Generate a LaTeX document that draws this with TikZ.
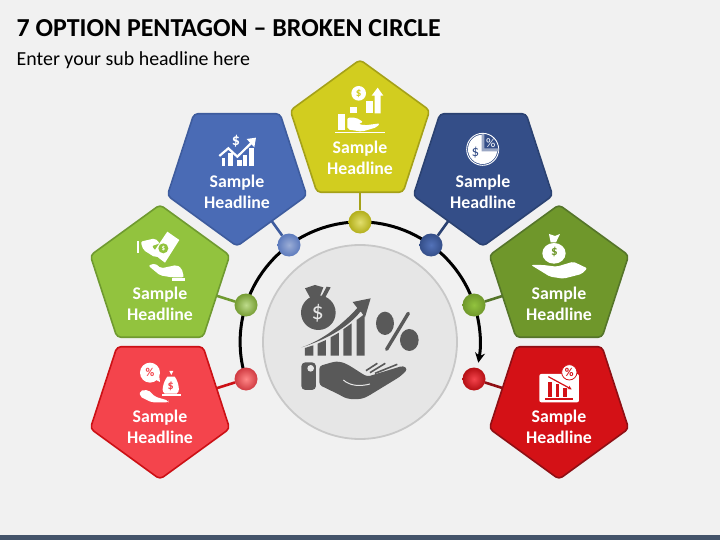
\documentclass[tikz,border=0pt]{standalone}
\usepackage{fontspec}
\setmainfont{Carlito}
\usetikzlibrary{shapes.geometric,backgrounds,arrows.meta}

\definecolor{pagegrey}{HTML}{F1F1F1}
\definecolor{barslate}{HTML}{44546A}
\definecolor{hubfill}{HTML}{E6E6E6}
\definecolor{hubline}{HTML}{C8C8C8}
\definecolor{icongrey}{HTML}{595959}
\definecolor{yellowfill}{HTML}{D2CD1F}
\definecolor{yellowline}{HTML}{A5A118}
\definecolor{bluefill}{HTML}{4A6BB5}
\definecolor{blueline}{HTML}{3E5C9E}
\definecolor{navyfill}{HTML}{344E88}
\definecolor{navyline}{HTML}{2B4272}
\definecolor{limefill}{HTML}{92C33E}
\definecolor{limeline}{HTML}{6F9A30}
\definecolor{greenfill}{HTML}{6F972B}
\definecolor{greenline}{HTML}{55752A}
\definecolor{redfill}{HTML}{F4444C}
\definecolor{redline}{HTML}{CC1015}
\definecolor{crimsonfill}{HTML}{D41116}
\definecolor{crimsonline}{HTML}{8F0F14}

\begin{document}
\begin{tikzpicture}[x=1pt,y=-1pt,
    pentup/.style={regular polygon,regular polygon sides=5,minimum size=146.5pt,inner sep=0pt,outer sep=0pt,rounded corners=4pt,line width=1.6pt},
    pentdown/.style={pentup,shape border rotate=180},
    ball/.style={circle,minimum size=23pt,inner sep=0pt,outer sep=0pt},
    stub/.style={line width=2.6pt},
    caption/.style={text=white,align=center,font=\fontsize{17.8}{21}\selectfont\bfseries},
    glyph/.style={inner sep=0pt,outer sep=0pt}]

\useasboundingbox (0,0) rectangle (720,540);

\node [pentup,   fill=limefill,    draw=limeline]    (pent_lime)    at (160,278) {};
\node [pentdown, fill=bluefill,    draw=blueline]    (pent_blue)    at (237,173) {};
\node [pentup,   fill=yellowfill,  draw=yellowline]  (pent_yellow)  at (360,133) {};
\node [pentdown, fill=navyfill,    draw=navyline]    (pent_navy)    at (483,173) {};
\node [pentup,   fill=greenfill,   draw=greenline]   (pent_green)   at (559,278) {};
\node [pentdown, fill=redfill,     draw=redline]     (pent_red)     at (160,406) {};
\node [pentdown, fill=crimsonfill, draw=crimsonline] (pent_crimson) at (559,406) {};

\node [ball, inner color=red!45!pink!80!white,   outer color=redfill!85!black]     (ball_red)     at (246,379) {};
\node [ball, inner color=limefill!60!white,      outer color=limefill!80!black]    (ball_lime)    at (246,305) {};
\node [ball, inner color=bluefill!55!white,      outer color=bluefill!90!white]    (ball_blue)    at (289,245) {};
\node [ball, inner color=yellowfill!65!white,    outer color=yellowfill!85!black]  (ball_yellow)  at (360,222) {};
\node [ball, inner color=bluefill!95!white,      outer color=navyfill]             (ball_navy)    at (431,245) {};
\node [ball, inner color=limefill,               outer color=greenfill]            (ball_green)   at (474,305) {};
\node [ball, inner color=redfill,                outer color=crimsonfill!85!black] (ball_crimson) at (474,379) {};

\node [circle, minimum size=194pt, inner sep=0pt, fill=hubfill, draw=hubline, line width=1.8pt] (hub) at (360,342) {};

\begin{scope}[on background layer]
\fill [pagegrey] (0,0) rectangle (720,540);
\fill [barslate] (0,535) rectangle (720,540);
\draw [line width=3pt, -{Stealth[length=10pt,width=10pt]}] (ball_red.center) arc[start angle=162, end angle=370, radius=120];
\draw [stub, limeline]    (pent_lime)    -- (ball_lime);
\draw [stub, blueline]    (pent_blue)    -- (ball_blue);
\draw [stub, yellowline]  (pent_yellow)  -- (ball_yellow);
\draw [stub, navyline]    (pent_navy)    -- (ball_navy);
\draw [stub, greenline]   (pent_green)   -- (ball_green);
\draw [stub, redline]     (pent_red)     -- (ball_red);
\draw [stub, crimsonline] (pent_crimson) -- (ball_crimson);
\end{scope}

\node [anchor=base west, inner sep=0pt, font=\fontsize{25.9}{28}\selectfont\bfseries] (title)    at (16.5,36.5) {7 OPTION PENTAGON – BROKEN CIRCLE};
\node [anchor=base west, inner sep=0pt, font=\fontsize{19.9}{22}\selectfont]          (subtitle) at (16.5,66)   {Enter your sub headline here};

\node [caption] (text_lime)    at (160,304) {Sample\\Headline};
\node [caption] (text_blue)    at (237,192) {Sample\\Headline};
\node [caption] (text_yellow)  at (360,158) {Sample\\Headline};
\node [caption] (text_navy)    at (483,192) {Sample\\Headline};
\node [caption] (text_green)   at (559,304) {Sample\\Headline};
\node [caption] (text_red)     at (160,427) {Sample\\Headline};
\node [caption] (text_crimson) at (559,427) {Sample\\Headline};

\begin{scope}[shift={(260,240)},scale=0.3333,fill=icongrey]
\fill (175,218) circle (52);
\fill (135,145) -- (165,135) -- (190,142) -- (177,176) -- (152,176) -- cycle;
\fill (200,140) -- (212,142) -- (196,172) -- (184,170) -- cycle;
\node [glyph, text=hubfill, font=\fontsize{24}{24}\selectfont] (big_dollar) at (173,220) {\$};
\fill (125,322) .. controls (190,300) and (250,250) .. (292,204) -- (278,186) -- (332,175) -- (315,232) -- (302,214) .. controls (270,255) and (210,295) .. (125,322) -- cycle;
\fill (135,324) -- (160,316) -- (160,347) -- (135,347) -- cycle;
\fill (173,311) -- (198,300) -- (198,347) -- (173,347) -- cycle;
\fill (212,292) -- (237,278) -- (237,347) -- (212,347) -- cycle;
\fill (250,268) -- (275,250) -- (275,347) -- (250,347) -- cycle;
\fill (290,240) -- (314,222) -- (314,347) -- (290,347) -- cycle;
\fill (375,250) ellipse [x radius=27, y radius=35];
\fill (448,300) ellipse [x radius=28, y radius=33];
\draw [icongrey, line width=3.4pt, line cap=round] (445,220) -- (380,328);
\fill [rounded corners=4pt] (124,367) rectangle (168,450);
\fill [hubfill] (152,385) circle (10);
\fill [rounded corners=3pt] (178,378) .. controls (200,372) and (220,365) .. (238,365) .. controls (265,372) and (295,395) .. (322,410) -- (430,377) -- (443,388) -- (420,410) -- (325,468) .. controls (300,480) and (265,480) .. (240,465) -- (178,435) -- cycle;
\draw [hubfill, line width=1pt] (250,420) .. controls (270,438) and (300,440) .. (330,432);
\draw [icongrey, line width=1.6pt] (318,392) -- (352,370);
\draw [icongrey, line width=1.6pt] (330,398) -- (376,370);
\draw [icongrey, line width=1.6pt] (345,400) -- (412,373);
\end{scope}

\begin{scope}[shift={(230,50)},scale=0.3333,fill=white]
\fill (386,130) circle (22);
\node [glyph, text=yellowfill, font=\fontsize{11}{11}\selectfont\bfseries] (dollar_yellow) at (386,130) {\$};
\fill (360,170) rectangle (380,190);
\fill (407,153) rectangle (428,190);
\fill (434,190) -- (434,137) -- (425,137) -- (443,113) -- (460,137) -- (452,137) -- (452,190) -- cycle;
\fill (325,192) rectangle (346,240);
\fill [rounded corners=2pt] (352,203) -- (378,203) -- (400,216) -- (385,222) -- (405,226) -- (450,220) -- (440,232) -- (395,245) -- (352,238) -- cycle;
\fill (315,246) rectangle (465,250);
\end{scope}

\begin{scope}[shift={(160,100)},scale=0.3333,fill=white]
\node [glyph, text=white, font=\fontsize{16}{16}\selectfont\bfseries] (dollar_blue) at (228,125) {\$};
\draw [white, line width=2.2pt] (178,168) -- (205,145) -- (232,170) -- (275,128);
\fill (260,117) -- (288,113) -- (283,142) -- cycle;
\fill (185,175) rectangle (196,197);
\fill (205,160) rectangle (220,197);
\fill (230,180) rectangle (245,197);
\fill (250,165) rectangle (262,197);
\fill (268,145) rectangle (282,197);
\end{scope}

\begin{scope}[shift={(450,120)},scale=0.3333,fill=white]
\draw [white, line width=0.9pt] (98,88) circle (48);
\fill (98,44) arc[start angle=-90, end angle=-360, radius=44] -- (98,88) -- cycle;
\fill [navyfill!50!white] (95,42) -- (103,42) -- (103,85) -- (146,85) -- (146,94) -- (95,94) -- cycle;
\node [glyph, text=navyfill, font=\fontsize{15}{15}\selectfont] (dollar_navy) at (76,99) {\$};
\node [glyph, text=white, font=\fontsize{13}{13}\selectfont] (percent_navy) at (122,68) {\%};
\end{scope}

\begin{scope}[shift={(80,200)},scale=0.3333,fill=white]
\fill (170,122) rectangle (176,160);
\fill (262,95) -- (298,120) -- (255,188) -- (218,160) -- cycle;
\fill [limefill] (250,145) circle (15);
\node [glyph, text=white, font=\fontsize{7}{7}\selectfont\bfseries] (dollar_lime) at (250,145) {\$};
\fill [rounded corners=2pt] (182,125) -- (225,115) -- (240,130) -- (215,138) -- (240,168) -- (225,172) -- (190,150) -- cycle;
\fill [rounded corners=2pt] (205,197) -- (225,190) -- (243,205) -- (290,195) -- (305,205) -- (312,232) -- (275,232) -- (240,226) -- cycle;
\fill (277,235) rectangle (315,242);
\end{scope}

\begin{scope}[shift={(80,200)},scale=0.3333,fill=white]
\fill (210,518) circle (30);
\fill (225,538) -- (240,546) -- (238,530) -- cycle;
\node [glyph, text=redfill, font=\fontsize{12}{12}\selectfont\bfseries] (percent_red) at (210,518) {\%};
\fill (268,513) -- (280,513) -- (274,525) -- cycle;
\fill (262,530) -- (284,530) .. controls (296,545) and (302,578) .. (290,581) -- (254,581) .. controls (242,578) and (250,545) .. (262,530) -- cycle;
\node [glyph, text=redfill, font=\fontsize{12}{12}\selectfont\bfseries] (dollar_red) at (272,558) {\$};
\fill (245,583) rectangle (303,587);
\fill [rounded corners=2pt] (180,572) -- (205,570) -- (225,590) -- (265,602) -- (265,607) -- (215,607) -- (180,590) -- cycle;
\end{scope}

\begin{scope}[shift={(450,200)},scale=0.3333,fill=white]
\fill (297,102) -- (315,108) -- (330,102) -- (318,127) -- (302,127) -- cycle;
\fill (312,160) ellipse [x radius=35, y radius=31];
\node [glyph, text=greenfill, font=\fontsize{13}{13}\selectfont\bfseries] (dollar_green) at (313,157) {\$};
\fill [rounded corners=2pt] (243,195) -- (280,195) -- (320,200) -- (370,185) -- (412,205) -- (395,222) -- (340,236) -- (300,230) -- cycle;
\end{scope}

\begin{scope}[shift={(450,200)},scale=0.3333,fill=white]
\fill [rounded corners=2pt] (268,522) rectangle (387,607);
\fill [crimsonfill] (285,594) rectangle (370,600);
\fill [crimsonfill] (295,545) rectangle (305,590);
\fill [crimsonfill] (318,552) rectangle (328,590);
\fill [crimsonfill] (340,565) rectangle (350,590);
\draw [crimsonfill, line width=1.2pt, -{Stealth[length=4pt,width=4pt]}] (295,530) -- (365,568);
\draw [crimsonfill, fill=white, line width=0.8pt] (358,517) circle (23);
\node [glyph, text=crimsonfill, font=\fontsize{12}{12}\selectfont\bfseries] (percent_crimson) at (358,517) {\%};
\end{scope}

\end{tikzpicture}
\end{document}
